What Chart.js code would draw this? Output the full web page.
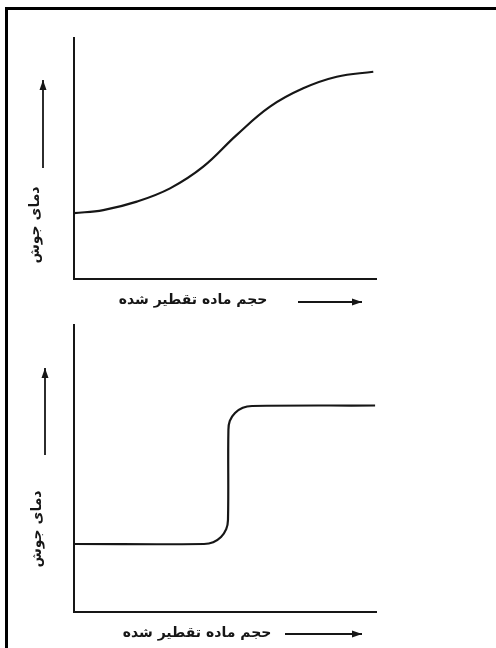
<!DOCTYPE html>
<html>
<head>
<meta charset="utf-8">
<title>دمای جوش</title>
<script src="https://cdn.jsdelivr.net/npm/chart.js@4.4.0/dist/chart.umd.min.js"></script>
<style>
  body { margin: 0; background: #fff; }
  #frame { position: absolute; left: 5px; top: 7px; width: 491px; height: 641px;
           border-left: 3px solid #000; border-top: 3px solid #000; }
  canvas { position: absolute; left: 0; }
</style>
</head>
<body>
<div id="frame"></div>
<canvas id="top" width="496" height="320" style="top:0"></canvas>
<canvas id="bottom" width="496" height="328" style="top:320px"></canvas>
<script>
// axis titles
var yTitle = 'دمای جوش';
var xTitle = 'حجم ماده تقطیر شده';

// upper chart: gradual rise
var xTop = [0, 9.7, 20.8, 31.8, 42.8, 53.9, 64.9, 75.9, 87.0, 99.1];
var yTop = [27.3, 28.6, 32.1, 37.6, 46.6, 59.8, 71.5, 79.1, 83.9, 86.0];

// lower chart: sharp step
var xBottom = [0, 43.05, 46.09, 48.68, 50.40, 50.99, 51.13, 51.59, 53.31, 55.89, 58.94, 99.7];
var yBottom = [23.7, 23.7, 24.32, 26.13, 28.85, 32.06, 63.41, 66.62, 69.34, 71.15, 71.78, 71.95];

var ink = '#161616';

function arrow(ctx, x1, y1, x2, y2) {
    ctx.beginPath();
    ctx.moveTo(x1, y1);
    ctx.lineTo(x2, y2);
    ctx.lineWidth = 1.8;
    ctx.stroke();
    var ang = Math.atan2(y2 - y1, x2 - x1);
    ctx.beginPath();
    ctx.moveTo(x2, y2);
    ctx.lineTo(x2 - 10 * Math.cos(ang) + 3.5 * Math.sin(ang), y2 - 10 * Math.sin(ang) - 3.5 * Math.cos(ang));
    ctx.lineTo(x2 - 10 * Math.cos(ang) - 3.5 * Math.sin(ang), y2 - 10 * Math.sin(ang) + 3.5 * Math.cos(ang));
    ctx.closePath();
    ctx.fill();
}

// draws the two axis captions with their arrows, relative to the plot area
var decor = {
    id: 'decor',
    afterDraw: function(chart, args, o) {
        var ctx = chart.ctx, a = chart.chartArea;
        ctx.save();
        ctx.fillStyle = ink;
        ctx.strokeStyle = ink;
        ctx.font = 'bold 14px "DejaVu Sans"';
        ctx.textAlign = 'center';
        ctx.textBaseline = 'middle';
        ctx.fillText(xTitle, a.left + o.xText[0], a.bottom + o.xText[1]);
        arrow(ctx, a.left + o.xArrow[0], a.bottom + o.xArrow[2], a.left + o.xArrow[1], a.bottom + o.xArrow[2]);

        ctx.save();
        ctx.translate(a.left + o.yText[0], a.bottom + o.yText[1]);
        ctx.rotate(-Math.PI / 2);
        ctx.fillText(yTitle, 0, 0);
        ctx.restore();
        arrow(ctx, a.left + o.yArrow[0], a.bottom + o.yArrow[1], a.left + o.yArrow[0], a.bottom + o.yArrow[2]);
        ctx.restore();
    }
};

function makeChart(id, xs, ys, pad, deco) {
    var pts = xs.map(function(x, i) { return { x: x, y: ys[i] }; });
    return new Chart(document.getElementById(id), {
        type: 'line',
        data: {
            datasets: [{
                data: pts,
                borderColor: ink,
                borderWidth: 2.2,
                pointRadius: 0,
                fill: false,
                tension: 0.4
            }]
        },
        options: {
            responsive: false,
            animation: false,
            layout: { padding: pad },
            plugins: { legend: { display: false }, tooltip: { enabled: false }, decor: deco },
            scales: {
                x: {
                    type: 'linear', min: 0, max: 100,
                    grid: { display: false, drawTicks: false },
                    ticks: { display: false },
                    border: { display: true, color: ink, width: 2 }
                },
                y: {
                    type: 'linear', min: 0, max: 100,
                    grid: { display: false, drawTicks: false },
                    ticks: { display: false },
                    border: { display: true, color: ink, width: 2 }
                }
            }
        },
        plugins: [decor]
    });
}

makeChart('top', xTop, yTop,
    { left: 74, top: 38, right: 120, bottom: 41 },
    { xText: [119, 21], xArrow: [224, 288, 23], yText: [-39, -54], yArrow: [-31, -111, -199] });

makeChart('bottom', xBottom, yBottom,
    { left: 74, top: 5, right: 120, bottom: 36 },
    { xText: [123, 21], xArrow: [211, 288, 22], yText: [-37, -83], yArrow: [-29, -157, -244] });
</script>
</body>
</html>
